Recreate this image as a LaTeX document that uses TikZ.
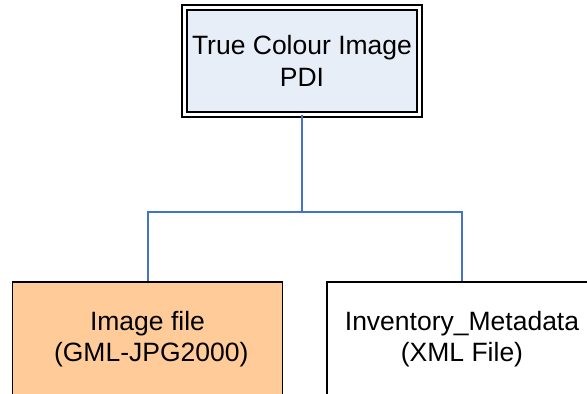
\documentclass[tikz,border=0pt]{standalone}
\usepackage{fontspec}
\setmainfont{Liberation Sans}
\usetikzlibrary{positioning,calc}
\definecolor{PdiFill}{HTML}{E8EEF8}
\definecolor{ImgFill}{HTML}{FFCC99}
\definecolor{Link}{HTML}{4472C4}

\begin{document}
\begin{tikzpicture}[x=1pt,y=1pt,
  pdibox/.style={draw=black,fill=PdiFill,double=white,double distance=3pt,
    line width=2pt,minimum width=235pt,minimum height=107pt,align=center,
    inner sep=0pt,font=\fontsize{26.5}{31.5}\selectfont},
  filebox/.style={draw=black,line width=1.6pt,minimum width=270pt,
    minimum height=114pt,align=center,inner sep=0pt,
    font=\fontsize{26.5}{31.5}\selectfont},
  link/.style={Link,line width=2pt}]
  \useasboundingbox (0,0) rectangle (587,394);
  \clip (0,0) rectangle (587,394);

  \node[pdibox] (pdi) at (302,333) {True Colour Image\\PDI};
  \node[filebox,fill=ImgFill] (img) at (147.5,55) {Image file\\\hspace*{7.4pt}(GML-JPG2000)};
  \node[filebox,fill=white] (meta) at (462,55) {Inventory\_Metadata\\(XML File)};

  \coordinate (split) at (pdi.south |- 0,182);
  \draw[link] (pdi.south) -- (split);
  \draw[link] (split) -| (img.north);
  \draw[link] (split) -| (meta.north);
\end{tikzpicture}
\end{document}
